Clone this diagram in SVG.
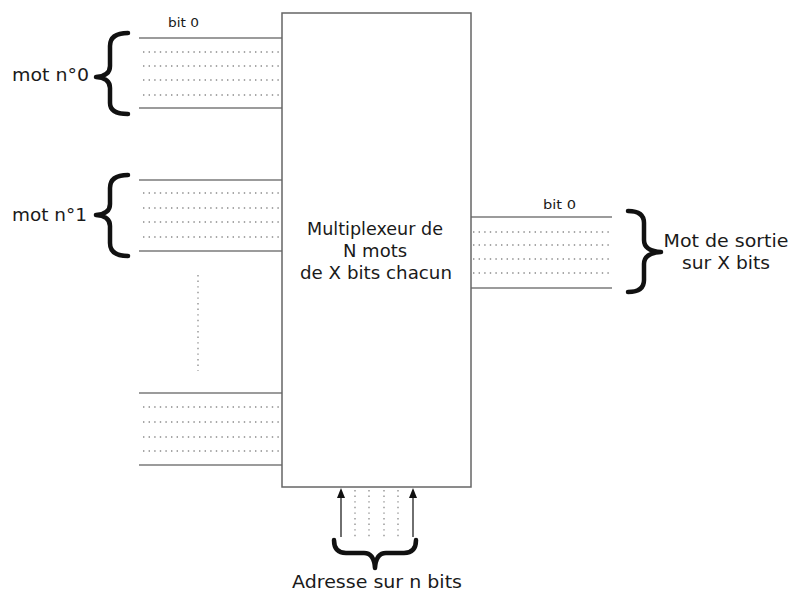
<svg xmlns="http://www.w3.org/2000/svg" width="807" height="593" viewBox="0 0 807 593">
  <style>
    .txt { font-family: "DejaVu Sans", "Liberation Sans", sans-serif; fill: #1a1a1a; }
    .lbl { font-size: 18px; }
    .small { font-size: 12px; }
    .wire { stroke: #7a7a7a; stroke-width: 1.5; fill: none; }
    .dots { stroke: #8a8a8a; stroke-width: 1.3; stroke-dasharray: 1.4 4.2; fill: none; }
    .brace { stroke: #111; stroke-width: 4.5; fill: none; stroke-linecap: round; stroke-linejoin: round; }
    .box { stroke: #666; stroke-width: 1.5; fill: #fff; }
    .arrow { stroke: #222; stroke-width: 1.3; fill: none; }
    .head { fill: #111; }
  </style>
  <rect width="807" height="593" fill="#fff"/>

  <!-- buses -->
  <g id="connectors">
    <!-- word 0 -->
    <line class="wire" x1="139" y1="38" x2="282" y2="38"/>
    <line class="dots" x1="143" y1="52" x2="282" y2="52"/>
    <line class="dots" x1="143" y1="66" x2="282" y2="66"/>
    <line class="dots" x1="143" y1="80" x2="282" y2="80"/>
    <line class="dots" x1="143" y1="95" x2="282" y2="95"/>
    <line class="wire" x1="139" y1="108" x2="282" y2="108"/>
    <!-- word 1 -->
    <line class="wire" x1="139" y1="180" x2="282" y2="180"/>
    <line class="dots" x1="143" y1="193" x2="282" y2="193"/>
    <line class="dots" x1="143" y1="208" x2="282" y2="208"/>
    <line class="dots" x1="143" y1="222" x2="282" y2="222"/>
    <line class="dots" x1="143" y1="237" x2="282" y2="237"/>
    <line class="wire" x1="139" y1="251" x2="282" y2="251"/>
    <!-- ellipsis between words -->
    <line class="dots" x1="198" y1="275" x2="198" y2="371"/>
    <!-- last word -->
    <line class="wire" x1="139" y1="393" x2="282" y2="393"/>
    <line class="dots" x1="143" y1="407" x2="282" y2="407"/>
    <line class="dots" x1="143" y1="422" x2="282" y2="422"/>
    <line class="dots" x1="143" y1="437" x2="282" y2="437"/>
    <line class="dots" x1="143" y1="451" x2="282" y2="451"/>
    <line class="wire" x1="139" y1="465" x2="282" y2="465"/>
    <!-- output word -->
    <line class="wire" x1="471" y1="217" x2="612" y2="217"/>
    <line class="dots" x1="473" y1="232" x2="610" y2="232"/>
    <line class="dots" x1="473" y1="245" x2="610" y2="245"/>
    <line class="dots" x1="473" y1="259" x2="610" y2="259"/>
    <line class="dots" x1="473" y1="273" x2="610" y2="273"/>
    <line class="wire" x1="471" y1="288" x2="612" y2="288"/>
    <!-- address -->
    <line class="arrow" x1="341" y1="537" x2="341" y2="496"/>
    <path class="head" d="M341 488 L345 498 L337 498 Z"/>
    <line class="arrow" x1="413" y1="537" x2="413" y2="496"/>
    <path class="head" d="M413 488 L417 498 L409 498 Z"/>
    <line class="dots" x1="355" y1="490" x2="355" y2="538"/>
    <line class="dots" x1="369" y1="490" x2="369" y2="538"/>
    <line class="dots" x1="384" y1="490" x2="384" y2="538"/>
    <line class="dots" x1="398" y1="490" x2="398" y2="538"/>
  </g>

  <g id="mux">
    <rect class="box" x="282" y="13" width="189" height="474"/>
    <text class="txt lbl" x="375" y="235" text-anchor="middle" textLength="136" lengthAdjust="spacingAndGlyphs">Multiplexeur de</text>
    <text class="txt lbl" x="375" y="257" text-anchor="middle">N mots</text>
    <text class="txt lbl" x="376" y="279" text-anchor="middle" textLength="152" lengthAdjust="spacingAndGlyphs">de X bits chacun</text>
  </g>

  <g id="word0">
    <text class="txt small" x="168" y="27" textLength="31" lengthAdjust="spacingAndGlyphs">bit 0</text>
    <path class="brace" d="M128 33 Q110 33 110 46 L110 66 Q110 76 96 77 Q110 78 110 88 L110 103 Q110 114 128 114"/>
    <text class="txt lbl" x="12" y="81" textLength="77" lengthAdjust="spacingAndGlyphs">mot n°0</text>
  </g>

  <g id="word1">
    <path class="brace" d="M128 175 Q110 175 110 188 L110 204 Q110 214 96 215 Q110 216 110 226 L110 243 Q110 256 128 256"/>
    <text class="txt lbl" x="12" y="221" textLength="75" lengthAdjust="spacingAndGlyphs">mot n°1</text>
  </g>

  <g id="output">
    <text class="txt small" x="543" y="209" textLength="33" lengthAdjust="spacingAndGlyphs">bit 0</text>
    <path class="brace" d="M628 211 Q644 211 644 223 L644 240 Q644 251 661 252 Q644 253 644 264 L644 280 Q644 292 628 292"/>
    <text class="txt lbl" x="726" y="247" text-anchor="middle" textLength="125" lengthAdjust="spacingAndGlyphs">Mot de sortie</text>
    <text class="txt lbl" x="726" y="269" text-anchor="middle" textLength="88" lengthAdjust="spacingAndGlyphs">sur X bits</text>
  </g>

  <g id="address">
    <path class="brace" d="M334 540 Q334 553 346 553 L364 553 Q374 553 375 568 Q376 553 386 553 L404 553 Q416 553 416 540"/>
    <text class="txt lbl" x="377" y="588" text-anchor="middle" textLength="170" lengthAdjust="spacingAndGlyphs">Adresse sur n bits</text>
  </g>
</svg>
